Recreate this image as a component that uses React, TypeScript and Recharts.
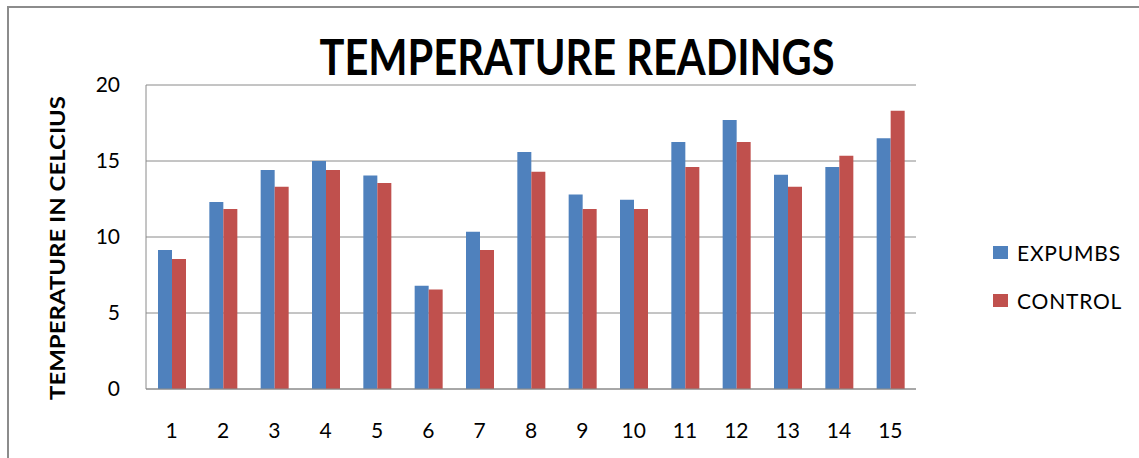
import React from "react";
import {
  BarChart,
  Bar,
  XAxis,
  YAxis,
  CartesianGrid,
  Legend,
} from "recharts";

const readings = ["1", "2", "3", "4", "5", "6", "7", "8", "9", "10", "11", "12", "13", "14", "15"];
const expumbs = [9.15, 12.3, 14.4, 15.0, 14.05, 6.8, 10.35, 15.6, 12.8, 12.45, 16.25, 17.7, 14.1, 14.6, 16.5];
const control = [8.55, 11.85, 13.3, 14.4, 13.55, 6.55, 9.15, 14.3, 11.85, 11.85, 14.6, 16.25, 13.3, 15.35, 18.3];
const yTicks = [0, 5, 10, 15, 20];

const data = readings.map((name, i) => ({
  name,
  expumbs: expumbs[i],
  control: control[i],
}));

const font = "Lato, 'Open Sans', sans-serif";
const BLUE = "#4F81BD";
const RED = "#C0504D";
const GRID = "#8a8a8a";

function YLabel() {
  return (
    <text
      x={65}
      y={248}
      transform="rotate(-90, 65, 248)"
      textAnchor="middle"
      fontFamily={font}
      fontWeight={700}
      fontSize={20}
      fill="#000"
      textLength={304}
      lengthAdjust="spacingAndGlyphs"
    >
      TEMPERATURE IN CELCIUS
    </text>
  );
}

function LegendBox() {
  const items = [
    { label: "EXPUMBS", color: BLUE },
    { label: "CONTROL", color: RED },
  ];
  return (
    <div style={{ fontFamily: font }}>
      {items.map((it) => (
        <div
          key={it.label}
          style={{ display: "flex", alignItems: "center", height: 48 }}
        >
          <span
            style={{
              width: 15,
              height: 13,
              background: it.color,
              display: "inline-block",
              marginRight: 9,
            }}
          />
          <span style={{ fontSize: 21, color: "#000", letterSpacing: 0.8 }}>
            {it.label}
          </span>
        </div>
      ))}
    </div>
  );
}

export default function App() {
  return (
    <div
      style={{
        position: "absolute",
        left: 0,
        top: 0,
        width: 1139,
        height: 458,
        background: "#fff",
        overflow: "hidden",
      }}
    >
      <div
        style={{
          position: "absolute",
          left: 7,
          top: 6,
          width: 1200,
          height: 500,
          borderTop: "2px solid #8c8c8c",
          borderLeft: "2px solid #8c8c8c",
        }}
      />
      <BarChart
        width={1139}
        height={458}
        data={data}
        margin={{ top: 85, right: 223, bottom: 0, left: 0 }}
        barGap={0}
        style={{ position: "absolute", left: 0, top: 0 }}
      >
        <CartesianGrid stroke={GRID} vertical={false} />
        <XAxis
          dataKey="name"
          height={69}
          tickSize={0}
          tickMargin={34}
          axisLine={{ stroke: GRID }}
          tick={{ fill: "#000", fontSize: 21, fontFamily: font }}
        />
        <YAxis
          width={146}
          domain={[0, 20]}
          ticks={yTicks}
          tickSize={0}
          tickMargin={26}
          axisLine={{ stroke: GRID }}
          tick={{ fill: "#000", fontSize: 21, fontFamily: font }}
          label={<YLabel />}
        />
        <Legend
          layout="horizontal"
          verticalAlign="middle"
          align="center"
          content={<LegendBox />}
          wrapperStyle={{ position: "absolute", left: 993, top: 228, width: 140 }}
        />
        <Bar dataKey="expumbs" name="EXPUMBS" fill={BLUE} barSize={14} isAnimationActive={false} />
        <Bar dataKey="control" name="CONTROL" fill={RED} barSize={14} isAnimationActive={false} />
      </BarChart>
      <svg
        width={1139}
        height={100}
        style={{ position: "absolute", left: 0, top: 0, pointerEvents: "none" }}
      >
        <text
          x={577}
          y={75}
          textAnchor="middle"
          fontFamily={font}
          fontWeight={700}
          fontSize={50}
          fill="#000"
          textLength={515}
          lengthAdjust="spacingAndGlyphs"
        >
          TEMPERATURE READINGS
        </text>
      </svg>
    </div>
  );
}
